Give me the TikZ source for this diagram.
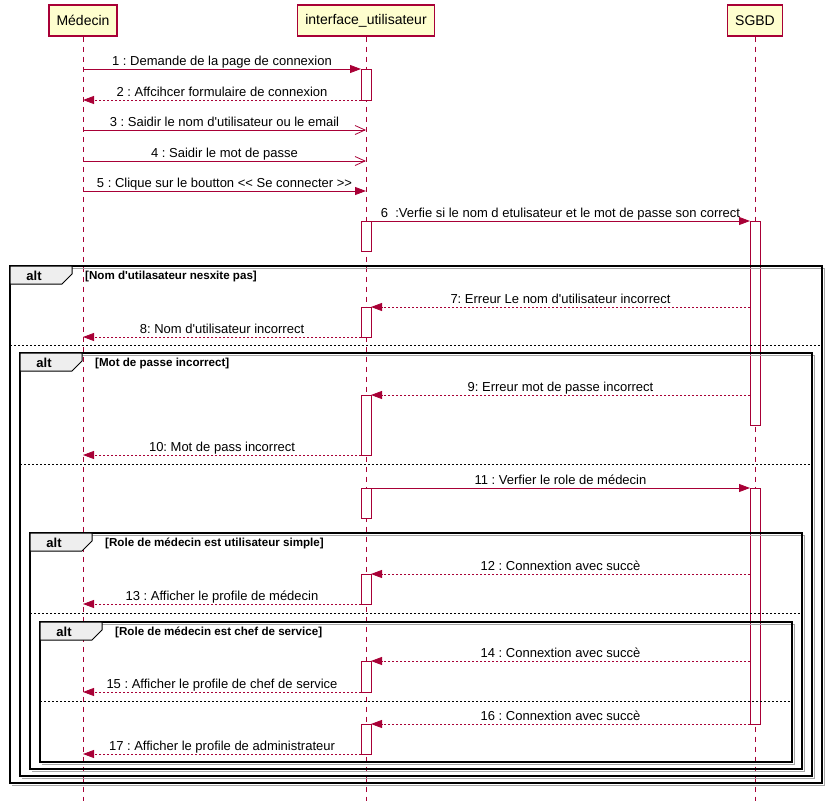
\documentclass[tikz,border=0pt]{standalone}
\usepackage{fontspec}
\newfontfamily\uif{Liberation Sans}
\usetikzlibrary{arrows.meta}
\definecolor{pu}{HTML}{A80036}
\definecolor{pbg}{HTML}{FEFECE}
\definecolor{tabbg}{HTML}{EEEEEE}
\frenchspacing
\tikzset{
  part/.style={draw=pu, line width=1.2pt, fill=pbg, font=\uif\fontsize{14}{16}\selectfont,
    minimum height=31pt, inner xsep=7.5pt, inner ysep=0pt},
  lifeline/.style={draw=pu, dash pattern=on 5pt off 5pt, line width=0.8pt},
  actbox/.style={draw=pu, fill=white, line width=0.8pt, minimum width=10pt, inner sep=0pt, outer sep=0pt, anchor=north},
  sync/.style={draw=pu, line width=0.8pt, -{Triangle[length=11pt,width=8pt]}},
  async/.style={draw=pu, line width=0.8pt, -{Straight Barb[length=10pt,width=9pt]}},
  ret/.style={draw=pu, line width=0.8pt, dash pattern=on 2pt off 2pt, -{Triangle[length=11pt,width=8pt]}},
  msglabel/.style={font=\uif\fontsize{13}{15}\selectfont\frenchspacing, anchor=base, inner sep=0pt, yshift=4pt},
  framebox/.style={draw=black, line width=1.5pt},
  frameshadow/.style={draw=black!35, line width=1pt},
  tabshape/.style={draw=black, line width=1pt, fill=tabbg},
  alttxt/.style={font=\uif\bfseries\fontsize{13}{15}\selectfont, anchor=base, inner sep=0pt},
  guardtxt/.style={font=\uif\bfseries\fontsize{11.6}{13}\selectfont, anchor=base west, inner sep=0pt},
  divider/.style={draw=black, dash pattern=on 2pt off 2pt, line width=0.8pt},
}
\newcommand\msg[6]{%
  \coordinate (#1s) at (#3,#2); \coordinate (#1e) at (#4,#2);
  \draw[#5] (#1s) -- node[msglabel] (#1l) {#6} (#1e);}
\newcommand\actv[4]{\node[actbox, minimum height=#4pt] (#1) at (#2,#3) {};}
\newcommand\altframe[6]{%
  \draw[frameshadow] (#2+2,#3+2) -- (#4+2,#3+2) -- (#4+2,#5+2) -- (#2+2,#5+2);
  \draw[framebox] (#2,#3) rectangle (#4,#5);
  \draw[tabshape] (#2,#3) -- (#2+62,#3) -- (#2+62,#3+8) -- (#2+52,#3+18) -- (#2,#3+18) -- cycle;
  \node[alttxt] (#1t) at (#2+24,#3+14) {alt};
  \node[guardtxt] (#1g) at (#2+75,#3+13) {#6};}
\begin{document}
\begin{tikzpicture}[x=1pt,y=-1pt]
\useasboundingbox (0,0) rectangle (828,806);
% participants
\node[part] (med) at (83,20.5) {Médecin};
\node[part] (ui) at (366,20.5) {interface\_utilisateur};
\node[part] (db) at (755,20.5) {SGBD};
\coordinate (bot) at (0,801);
\draw[lifeline] (med.south) -- (med.south |- bot);
\draw[lifeline] (ui.south) -- (ui.south |- bot);
\draw[lifeline] (db.south) -- (db.south |- bot);
% activations
\actv{a1}{366}{69}{31}
\actv{a2}{366}{221}{30}
\actv{a3}{366}{307}{30}
\actv{a4}{366}{395}{60}
\actv{a5}{366}{488}{30}
\actv{a6}{366}{574}{30}
\actv{a7}{366}{661}{31}
\actv{a8}{366}{724}{30}
\actv{b1}{755}{221}{204}
\actv{b2}{755}{488}{236}
% frames
\altframe{f1}{10}{266}{822}{783}{[Nom d'utilasateur nesxite pas]}
\draw[divider] (10,345.5) -- (822,345.5);
\altframe{f2}{20}{353}{812}{776}{[Mot de passe incorrect]}
\draw[divider] (20,464) -- (812,464);
\altframe{f3}{30}{533}{802}{769}{[Role de médecin est utilisateur simple]}
\draw[divider] (30,613) -- (802,613);
\altframe{f4}{40}{622}{792}{762}{[Role de médecin est chef de service]}
\draw[divider] (40,701) -- (792,701);
% messages
\msg{m1}{69}{83}{361}{sync}{1 : Demande de la page de connexion}
\msg{m2}{100}{361}{83}{ret}{2 : Affcihcer formulaire de connexion}
\msg{m3}{130}{83}{366}{async}{3 : Saidir le nom d'utilisateur ou le email}
\msg{m4}{161}{83}{366}{async}{4 : Saidir le mot de passe}
\msg{m5}{191}{83}{366}{sync}{5 : Clique sur le boutton << Se connecter >>}
\msg{m6}{221}{371}{750}{sync}{6\ \ :Verfie si le nom d etulisateur et le mot de passe son correct}
\msg{m7}{307}{750}{371}{ret}{7: Erreur Le nom d'utilisateur incorrect}
\msg{m8}{337}{361}{83}{ret}{8: Nom d'utilisateur incorrect}
\msg{m9}{395}{750}{371}{ret}{9: Erreur mot de passe incorrect}
\msg{m10}{455}{361}{83}{ret}{10: Mot de pass incorrect}
\msg{m11}{488}{371}{750}{sync}{11 : Verfier le role de médecin}
\msg{m12}{574}{750}{371}{ret}{12 : Connextion avec succè}
\msg{m13}{604}{361}{83}{ret}{13 : Afficher le profile de médecin}
\msg{m14}{661}{750}{371}{ret}{14 : Connextion avec succè}
\msg{m15}{692}{361}{83}{ret}{15 : Afficher le profile de chef de service}
\msg{m16}{724}{750}{371}{ret}{16 : Connextion avec succè}
\msg{m17}{754}{361}{83}{ret}{17 : Afficher le profile de administrateur}
\end{tikzpicture}
\end{document}
